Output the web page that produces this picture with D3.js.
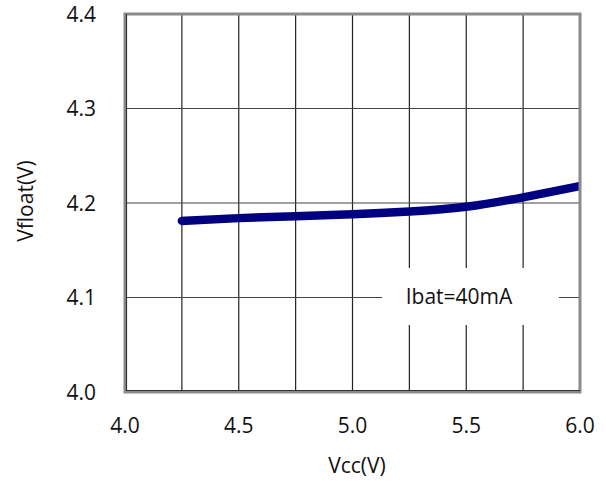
<!DOCTYPE html>
<html>
<head>
<meta charset="utf-8">
<script src="https://cdn.jsdelivr.net/npm/d3@7"></script>
<style>
body { margin: 0; background: white; }
text { font-family: "Open Sans", sans-serif; fill: #111; }
</style>
</head>
<body>
<svg id="chart" width="606" height="481"></svg>
<script>
// values
var vcc    = [4.25, 4.5, 4.75, 5.0, 5.25, 5.5, 5.75, 6.0];
var vfloat = [4.181, 4.184, 4.186, 4.188, 4.191, 4.196, 4.206, 4.218];
var x_ticks = [4.0, 4.5, 5.0, 5.5, 6.0];
var x_grid  = [4.25, 4.5, 4.75, 5.0, 5.25, 5.5, 5.75];
var y_ticks = [4.0, 4.1, 4.2, 4.3, 4.4];
var y_grid  = [4.1, 4.2, 4.3];
var label = "Ibat=40mA";

// plot box (window.top is taken, so prefix these)
var p_left = 125, p_right = 580, p_top = 14, p_bottom = 392;

var svg = d3.select("#chart");
var x = d3.scaleLinear().domain([4.0, 6.0]).range([p_left, p_right]);
var y = d3.scaleLinear().domain([4.0, 4.4]).range([p_bottom, p_top]);

// gridlines
svg.selectAll("line.vg").data(x_grid).enter().append("line")
    .attr("class", "vg")
    .attr("x1", function(d) {return x(d);}).attr("x2", function(d) {return x(d);})
    .attr("y1", p_top).attr("y2", p_bottom)
    .attr("stroke", "#222").attr("stroke-width", 1.2);
svg.selectAll("line.hg").data(y_grid).enter().append("line")
    .attr("class", "hg")
    .attr("x1", p_left).attr("x2", p_right)
    .attr("y1", function(d) {return y(d);}).attr("y2", function(d) {return y(d);})
    .attr("stroke", "#444").attr("stroke-width", 1.2);

// white box behind the annotation
svg.append("rect")
    .attr("x", 382).attr("y", 268).attr("width", 177).attr("height", 57)
    .attr("fill", "white");
svg.append("text")
    .attr("x", 459).attr("y", 304)
    .attr("text-anchor", "middle")
    .attr("font-size", "21px")
    .text(label);

// curve, clipped to the plot
svg.append("clipPath").attr("id", "plotclip").append("rect")
    .attr("x", p_left - 10).attr("y", p_top).attr("width", p_right - p_left + 10).attr("height", p_bottom - p_top);
var pts = vcc.map(function(v, i) {return [v, vfloat[i]];});
var line = d3.line()
    .x(function(d) {return x(d[0]);})
    .y(function(d) {return y(d[1]);})
    .curve(d3.curveNatural);
svg.append("path")
    .datum(pts)
    .attr("clip-path", "url(#plotclip)")
    .attr("d", line)
    .attr("fill", "none")
    .attr("stroke", "#000080")
    .attr("stroke-width", 8.5)
    .attr("stroke-linecap", "round");

// frame
svg.append("rect")
    .attr("x", p_left).attr("y", p_top).attr("width", p_right - p_left).attr("height", p_bottom - p_top)
    .attr("fill", "none").attr("stroke", "#8a8a8a").attr("stroke-width", 3);
svg.append("path")
    .attr("d", "M" + (p_left + 1.5) + "," + p_top + "V" + (p_bottom - 1.5) + "H" + p_right)
    .attr("fill", "none").attr("stroke", "#333").attr("stroke-width", 1.2);

// tick labels
svg.selectAll("text.xt").data(x_ticks).enter().append("text")
    .attr("class", "xt")
    .attr("x", function(d) {return x(d);})
    .attr("y", 433)
    .attr("text-anchor", "middle")
    .attr("font-size", "21px")
    .text(function(d) {return d.toFixed(1);});
svg.selectAll("text.yt").data(y_ticks).enter().append("text")
    .attr("class", "yt")
    .attr("x", 96)
    .attr("y", function(d) {return y(d) + 7.5;})
    .attr("text-anchor", "end")
    .attr("font-size", "21px")
    .text(function(d) {return d.toFixed(1);});

// axis titles
svg.append("text")
    .attr("x", 357).attr("y", 473)
    .attr("text-anchor", "middle")
    .attr("font-size", "21px")
    .text("Vcc(V)");
svg.append("text")
    .attr("transform", "translate(33,201) rotate(-90)")
    .attr("text-anchor", "middle")
    .attr("font-size", "21px")
    .text("Vfloat(V)");
</script>
</body>
</html>
